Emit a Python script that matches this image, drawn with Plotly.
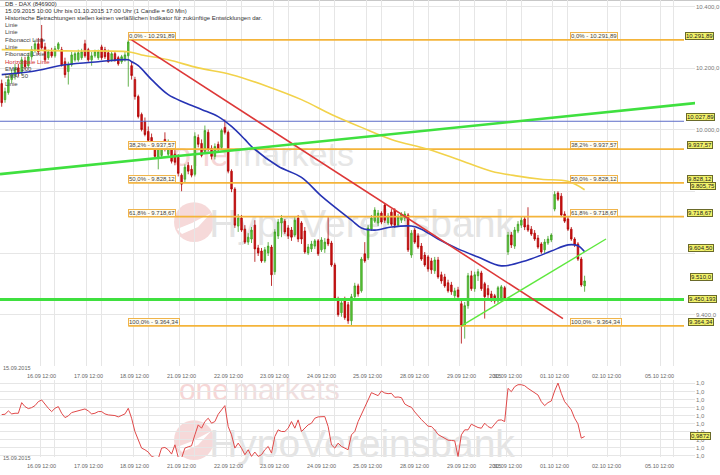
import plotly.graph_objects as go

# ---------------- data ----------------
DAYS = ["15.09", "16.09", "17.09", "18.09", "21.09", "22.09", "23.09", "24.09",
        "25.09", "28.09", "29.09", "30.09", "01.10", "02.10", "05.10"]
CANDLE_DAYS = DAYS[:13]

open_ = [
    10150, 10098, 10121, 10163, 10176, 10201, 10185, 10224, 10208, 10237, 10260, 10279,
    10295, 10269, 10234, 10253, 10240, 10263, 10260, 10221, 10189, 10211, 10227, 10227, 10234, 10279,
    10260, 10227, 10240, 10234, 10269, 10260, 10250, 10227, 10247, 10234, 10221, 10227, 10240, 10208,
    10163, 10108, 10050, 10027, 9995, 9975, 9956, 9911, 9917, 9969, 9921, 9946, 9921, 9911,
    9853, 9840, 9885, 9872, 9856, 9975, 9956, 9930, 9992, 9940, 9914, 9953, 9943, 10008,
    9992, 9866, 9808, 9688, 9714, 9678, 9636, 9646, 9691, 9617, 9607, 9575, 9601, 9620,
    9540, 9656, 9698, 9704, 9682, 9675, 9659, 9714, 9698, 9672, 9601, 9614, 9623, 9640,
    9611, 9614, 9646, 9633, 9562, 9452, 9407, 9445, 9433, 9381, 9459, 9494, 9478, 9598,
    9585, 9678, 9704, 9698, 9730, 9756, 9698, 9733, 9740, 9691, 9707, 9714, 9724, 9594,
    9675, 9656, 9623, 9594, 9588, 9575, 9543, 9578, 9530, 9523, 9504, 9497, 9462, 9481,
    9436, 9365, 9430, 9527, 9485, 9527, 9536, 9501, 9485, 9468, 9462, 9445, 9452, 9488,
    9604, 9659, 9623, 9672, 9691, 9711, 9691, 9678, 9665, 9649, 9630, 9611, 9633, 9643,
    9743, 9795, 9785, 9727, 9711, 9678, 9646, 9630, 9581, 9494]
high = [
    10163, 10137, 10176, 10195, 10214, 10214, 10237, 10237, 10250, 10272, 10292, 10298,
    10340, 10282, 10260, 10266, 10272, 10285, 10269, 10234, 10221, 10253, 10253, 10260, 10263, 10292,
    10266, 10253, 10260, 10260, 10276, 10269, 10260, 10253, 10253, 10240, 10243, 10253, 10291.89, 10221,
    10172, 10114, 10056, 10040, 10011, 9988, 9962, 9953, 9959, 9992, 9969, 9956, 9937, 9921,
    9859, 9888, 9895, 9885, 9992, 9985, 9969, 10014, 10001, 9950, 9956, 9962, 10004, 10034,
    9998, 9872, 9814, 9727, 9724, 9691, 9665, 9685, 9707, 9627, 9617, 9620, 9636, 9627,
    9678, 9711, 9724, 9711, 9691, 9685, 9717, 9724, 9704, 9685, 9630, 9640, 9646, 9646,
    9652, 9649, 9717, 9640, 9569, 9459, 9452, 9459, 9442, 9468, 9504, 9501, 9588, 9636,
    9691, 9724, 9749, 9740, 9736, 9762, 9730, 9743, 9746, 9727, 9733, 9736, 9730, 9675,
    9682, 9665, 9633, 9604, 9594, 9585, 9588, 9588, 9540, 9533, 9514, 9507, 9488, 9491,
    9449, 9442, 9536, 9543, 9540, 9549, 9543, 9507, 9497, 9478, 9468, 9494, 9497, 9494,
    9669, 9669, 9685, 9704, 9717, 9720, 9749, 9688, 9675, 9659, 9636, 9646, 9656, 9665,
    9801, 9801, 9795, 9736, 9717, 9685, 9652, 9636, 9588, 9527]
low = [
    10075, 10088, 10114, 10150, 10163, 10172, 10179, 10195, 10201, 10227, 10250, 10243,
    10260, 10221, 10227, 10234, 10234, 10256, 10205, 10169, 10147, 10205, 10221, 10221, 10227, 10234,
    10221, 10208, 10234, 10227, 10227, 10230, 10218, 10221, 10221, 10208, 10214, 10221, 10140, 10163,
    10098, 10037, 9995, 9979, 9959, 9943, 9911, 9872, 9911, 9930, 9911, 9891, 9885, 9849,
    9801, 9830, 9856, 9846, 9849, 9943, 9911, 9924, 9930, 9904, 9904, 9927, 9937, 9985,
    9859, 9798, 9682, 9669, 9669, 9630, 9627, 9633, 9572, 9591, 9569, 9569, 9591, 9494,
    9530, 9646, 9652, 9662, 9646, 9640, 9652, 9636, 9630, 9598, 9594, 9604, 9614, 9591,
    9604, 9601, 9623, 9556, 9445, 9394, 9394, 9384, 9371, 9364.34, 9452, 9459, 9472, 9569,
    9578, 9672, 9698, 9688, 9694, 9698, 9691, 9688, 9682, 9685, 9698, 9704, 9604, 9585,
    9630, 9614, 9575, 9556, 9540, 9533, 9533, 9517, 9501, 9488, 9472, 9465, 9455, 9452,
    9307, 9323, 9420, 9478, 9475, 9510, 9478, 9388, 9455, 9442, 9436, 9436, 9442, 9445,
    9594, 9617, 9614, 9665, 9682, 9675, 9669, 9656, 9640, 9614, 9598, 9601, 9627, 9636,
    9736, 9769, 9717, 9698, 9672, 9640, 9620, 9575, 9491, 9475]
close = [
    10088, 10124, 10163, 10179, 10201, 10182, 10227, 10205, 10237, 10260, 10279, 10253,
    10266, 10227, 10253, 10240, 10263, 10279, 10211, 10179, 10211, 10243, 10247, 10250, 10253, 10240,
    10227, 10240, 10253, 10253, 10234, 10237, 10221, 10247, 10227, 10214, 10237, 10243, 10285, 10176,
    10108, 10043, 10001, 9985, 9966, 9950, 9914, 9943, 9946, 9937, 9956, 9898, 9895, 9859,
    9824, 9879, 9866, 9853, 9979, 9953, 9917, 9998, 9937, 9914, 9946, 9937, 9998, 9992,
    9866, 9808, 9691, 9714, 9675, 9636, 9652, 9675, 9614, 9601, 9575, 9611, 9623, 9530,
    9669, 9701, 9714, 9669, 9656, 9652, 9707, 9646, 9646, 9604, 9620, 9630, 9640, 9598,
    9643, 9636, 9630, 9562, 9452, 9401, 9439, 9391, 9381, 9459, 9494, 9468, 9581, 9575,
    9682, 9714, 9740, 9730, 9701, 9707, 9720, 9694, 9691, 9717, 9727, 9727, 9611, 9665,
    9636, 9620, 9581, 9562, 9549, 9546, 9578, 9523, 9510, 9494, 9478, 9475, 9478, 9459,
    9365, 9430, 9527, 9485, 9530, 9540, 9485, 9459, 9465, 9449, 9445, 9488, 9491, 9452,
    9659, 9627, 9675, 9694, 9707, 9685, 9675, 9662, 9646, 9620, 9604, 9636, 9646, 9659,
    9791, 9775, 9724, 9704, 9678, 9646, 9627, 9581, 9497, 9510]

indicator = [
    0.9938, 0.9939, 0.9949, 0.9940, 0.9942, 0.9942, 0.9974, 0.9962, 0.9956, 0.9959, 0.9965, 0.9977,
    0.9982, 0.9969, 0.9957, 0.9947, 0.9957, 0.9962, 0.9942, 0.9929, 0.9934, 0.9944, 0.9947, 0.9949, 0.9951, 0.9955,
    0.9949, 0.9940, 0.9942, 0.9947, 0.9947, 0.9940, 0.9937, 0.9937, 0.9935, 0.9931, 0.9935, 0.9940, 0.9957, 0.9927,
    0.9887, 0.9862, 0.9837, 0.9832, 0.9825, 0.9812, 0.9809, 0.9805, 0.9837, 0.9839, 0.9832, 0.9819, 0.9847, 0.9809,
    0.9807, 0.9837, 0.9841, 0.9844, 0.9877, 0.9907, 0.9897, 0.9917, 0.9927, 0.9912, 0.9917, 0.9939, 0.9952, 0.9965,
    0.9902, 0.9877, 0.9837, 0.9852, 0.9837, 0.9817, 0.9832, 0.9812, 0.9825, 0.9812, 0.9817, 0.9832, 0.9842, 0.9822,
    0.9872, 0.9892, 0.9887, 0.9887, 0.9897, 0.9917, 0.9897, 0.9922, 0.9887, 0.9897, 0.9907, 0.9912, 0.9927, 0.9931,
    0.9932, 0.9932, 0.9902, 0.9847, 0.9837, 0.9852, 0.9842, 0.9837, 0.9832, 0.9877, 0.9887, 0.9917, 0.9937, 0.9959,
    0.9982, 1.0004, 0.9999, 0.9995, 1.0009, 1.0003, 1.0001, 1.0002, 0.9990, 0.9991, 0.9989, 0.9970, 0.9964, 0.9960,
    0.9946, 0.9933, 0.9923, 0.9913, 0.9903, 0.9902, 0.9892, 0.9878, 0.9872, 0.9865, 0.9861, 0.9860, 0.9859, 0.9812,
    0.9877, 0.9892, 0.9892, 0.9909, 0.9904, 0.9899, 0.9897, 0.9912, 0.9902, 0.9897, 0.9909, 0.9921, 0.9922, 0.9917,
    1.0017, 1.0007, 1.0022, 1.0028, 1.0028, 1.0025, 1.0017, 1.0010, 1.0005, 0.9997, 0.9977, 0.9965, 0.9974, 0.9979,
    1.0009, 1.0033, 1.0002, 0.9977, 0.9965, 0.9952, 0.9927, 0.9910, 0.9867, 0.9872]

ema50_t = ["15.09 10:00", "15.09 19:00", "16.09 15:00", "17.09 11:00", "17.09 20:00", "17.09 21:00",
           "18.09 09:00", "18.09 13:00", "18.09 18:00", "21.09 09:00", "21.09 14:00", "21.09 19:00",
           "22.09 09:00", "22.09 13:00", "22.09 15:00", "23.09 09:00", "23.09 16:00", "24.09 08:00",
           "24.09 17:00", "24.09 20:00", "25.09 10:00", "25.09 15:00", "25.09 21:00", "28.09 10:00",
           "28.09 15:00", "28.09 21:00", "29.09 13:00", "29.09 20:00", "30.09 14:00", "30.09 21:00",
           "01.10 12:00", "01.10 15:00", "01.10 17:00"]
ema50_v = [10179, 10189, 10211, 10221, 10227, 10221, 10208, 10163, 10114, 10088, 10066, 10043,
           10011, 9969, 9946, 9882, 9846, 9785, 9707, 9682, 9675, 9685, 9688, 9678,
           9646, 9614, 9588, 9559, 9578, 9607, 9627, 9624, 9604.50]
ema200_t = ["15.09 10:00", "16.09 15:00", "17.09 20:00", "18.09 10:00", "18.09 18:00", "21.09 13:00",
            "22.09 09:00", "22.09 20:00", "23.09 16:00", "24.09 11:00", "24.09 20:00", "25.09 15:00",
            "28.09 12:00", "28.09 21:00", "29.09 17:00", "30.09 11:00", "30.09 18:00", "01.10 12:00",
            "01.10 17:00"]
ema200_v = [10260, 10256, 10253, 10243, 10227, 10201, 10179, 10140, 10098, 10050, 10008, 9969,
            9937, 9904, 9866, 9850, 9840, 9833, 9805.75]

fib_start = "17.09 20:00"
fib_levels = [10291.89, 9937.57, 9828.12, 9718.67, 9364.34]
fib_labels = ["0,0% - 10.291,89", "38,2% - 9.937,57", "50,0% - 9.828,12",
              "61,8% - 9.718,67", "100,0% - 9.364,34"]
red_trend_t = ["17.09 21:00", "01.10 10:30"]
red_trend_v = [10291.89, 9388]
green_trend_t = ["15.09 10:00", "01.10 17:00"]
green_trend_v = [9857, 10050]
support_t = ["29.09 08:00", "02.10 09:25"]
support_v = [9364.34, 9646]
blue_level = 10027.89
green_level = 9450.193

box_values = [10291.89, 10027.89, 9937.57, 9828.12, 9805.75, 9718.67, 9604.50, 9510.0, 9450.193, 9364.34]
box_texts = ["10.291,89", "10.027,89", "9.937,57", "9.828,12", "9.805,75", "9.718,67",
             "9.604,50", "9.510,0", "9.450,193", "9.364,34"]
ind_box_value = 0.9872
ind_box_text = "0,9872"

y_ticks = [10400, 10200, 10000, 9800, 9600, 9400]
y_ticktext = ["10.400,0", "10.200,0", "10.000,0", "", "", "9.400,0"]

legend_items = ["Linie", "Linie", "Fibonacci Linie", "Linie", "Fibonacci Linie",
                "Horizontale Linie", "EMA: 200", "EMA: 50", "Linie"]
header = ["DB - DAX (846900)",
          "15.09.2015 10:00 Uhr bis 01.10.2015 17:00 Uhr (1 Candle = 60 Min)",
          "Historische Betrachtungen stellen keinen verläßlichen Indikator für zukünftige Entwicklungen dar."]


# ---------------- scales / layout helpers ----------------
def tpos(t):
    d, hm = t.split()
    h, m = hm.split(":")
    return DAYS.index(d) * 14 + int(h) - 8 + int(m) / 60.0


candle_times = []
for i, d in enumerate(CANDLE_DAYS):
    hours = range(10, 22) if i == 0 else (range(8, 18) if d == "01.10" else range(8, 22))
    for h in hours:
        candle_times.append(f"{d} {h:02d}:00")
cx = [tpos(t) for t in candle_times]

W, H = 720, 475
PLOT_W = 695
PX_SLOT = 3.331
X0 = 13.5 - 40 / PX_SLOT
X1 = X0 + PLOT_W / PX_SLOT
PX_PT = 0.3097
MAIN_BOT = 368
Y_TOP = 10291.89 + 40 / PX_PT
Y_BOT = Y_TOP - MAIN_BOT / PX_PT
IND_TOP, IND_BOT = 382, 459
IND_HI, IND_LO = 1.0041, 0.9810
ind_ticks = [1.0032 - 0.00243 * k for k in range(10)]
box_px = [685, 686, 687, 687, 690, 687, 688, 690, 688, 688]
legend_colors = ["#444"] * 5 + ["#d03030"] + ["#444"] * 3


def px2x(px):
    return X0 + px / PX_SLOT


def yp(py):
    return 1 - py / H


FONT = "Liberation Sans, Arial, sans-serif"
GRID = "#e6e6e6"

fig = go.Figure()

fig.add_trace(go.Candlestick(
    x=cx, open=open_, high=high, low=low, close=close,
    increasing=dict(line=dict(color="#3f9f22", width=0.8), fillcolor="#5ccb38"),
    decreasing=dict(line=dict(color="#b00000", width=0.8), fillcolor="#d01515"),
    whiskerwidth=0, showlegend=False, hoverinfo="skip", xaxis="x", yaxis="y"))

line_end = px2x(684)
fx0 = tpos(fib_start)
for lvl in fib_levels:
    fig.add_trace(go.Scatter(x=[fx0, line_end], y=[lvl, lvl], mode="lines",
                             line=dict(color="#f4b43a", width=1.6), showlegend=False, hoverinfo="skip"))
fig.add_trace(go.Scatter(x=[X0, line_end], y=[blue_level] * 2, mode="lines",
                         line=dict(color="#5c6cc8", width=1), showlegend=False, hoverinfo="skip"))
fig.add_trace(go.Scatter(x=[X0, line_end], y=[green_level] * 2, mode="lines",
                         line=dict(color="#3fe03f", width=3), showlegend=False, hoverinfo="skip"))
fig.add_trace(go.Scatter(x=[tpos(t) for t in ema200_t], y=ema200_v, mode="lines",
                         line=dict(color="#f2d24a", width=1.6, shape="spline"), showlegend=False, hoverinfo="skip"))
fig.add_trace(go.Scatter(x=[tpos(t) for t in ema50_t], y=ema50_v, mode="lines",
                         line=dict(color="#2633b4", width=1.6, shape="spline"), showlegend=False, hoverinfo="skip"))
fig.add_trace(go.Scatter(x=[tpos(t) for t in red_trend_t], y=red_trend_v, mode="lines",
                         line=dict(color="#dd3838", width=1.6), showlegend=False, hoverinfo="skip"))
fig.add_trace(go.Scatter(x=[tpos(t) for t in support_t], y=support_v, mode="lines",
                         line=dict(color="#5ee83e", width=1.4), showlegend=False, hoverinfo="skip"))
# long green trend line (ray through two anchors, spanning full width)
gx = [tpos(t) for t in green_trend_t]
slope = (green_trend_v[1] - green_trend_v[0]) / (gx[1] - gx[0])
gx_end = px2x(720)
fig.add_shape(type="line", xref="x", yref="y", x0=X0, x1=gx_end,
              y0=green_trend_v[0] + slope * (X0 - gx[0]), y1=green_trend_v[0] + slope * (gx_end - gx[0]),
              line=dict(color="#3fe03f", width=2.6), layer="above")

fig.add_trace(go.Scatter(x=cx, y=indicator, mode="lines", line=dict(color="#e04848", width=1),
                         showlegend=False, hoverinfo="skip", xaxis="x2", yaxis="y2"))

# vertical grid positions (day start and 12:00 of each day)
grid_x = []
for d in range(1, 13):
    grid_x += [d * 14 - 0.5, d * 14 + 4]
grid_x += [px2x(607), px2x(620), px2x(660), px2x(673)]
label_x = [d * 14 + 4 for d in range(1, 13)] + [px2x(620), px2x(673)]

dom_x = [0, PLOT_W / W]
fig.update_layout(
    width=W, height=H, margin=dict(l=0, r=0, t=0, b=0),
    paper_bgcolor="white", plot_bgcolor="white", boxgap=0.35,
    font=dict(family=FONT, size=6, color="#555"),
    xaxis=dict(domain=dom_x, range=[X0, X1], tickvals=grid_x, showticklabels=False, showgrid=True,
               gridcolor=GRID, zeroline=False, rangeslider=dict(visible=False), anchor="y", fixedrange=True),
    yaxis=dict(domain=[yp(MAIN_BOT), 1], range=[Y_BOT, Y_TOP], side="right", tickvals=y_ticks,
               ticktext=y_ticktext, gridcolor=GRID, zeroline=False, ticks="", anchor="x",
               tickfont=dict(size=6, color="#777")),
    xaxis2=dict(domain=dom_x, range=[X0, X1], tickvals=grid_x, showticklabels=False, showgrid=True,
                gridcolor=GRID, zeroline=False, anchor="y2", matches="x"),
    yaxis2=dict(domain=[yp(IND_BOT), yp(IND_TOP)], range=[IND_LO, IND_HI], side="right",
                tickvals=ind_ticks, ticktext=["1,0"] * len(ind_ticks), gridcolor=GRID, zeroline=False,
                ticks="", anchor="x2", tickfont=dict(size=6, color="#777")),
)

# top border of the chart
fig.add_shape(type="line", xref="paper", yref="paper", x0=0, x1=1, y0=yp(0.5), y1=yp(0.5),
              line=dict(color="#c8c8c8", width=1), layer="below")


# watermarks (below traces)
def wm(text, x0, x1, y0, y1, size, color, pos):
    fig.add_shape(type="rect", xref="paper", yref="paper", x0=x0 / W, x1=x1 / W, y0=yp(y1), y1=yp(y0),
                  line=dict(width=0), fillcolor="rgba(0,0,0,0)", layer="between",
                  label=dict(text=text, font=dict(size=size, color=color, family=FONT),
                             textposition=pos, padding=0))


def logo(cxp, cyp, r):
    fig.add_shape(type="circle", xref="paper", yref="paper", x0=(cxp - r) / W, x1=(cxp + r) / W,
                  y0=yp(cyp + r), y1=yp(cyp - r), line=dict(width=0), fillcolor="#f6d9d9", layer="between")
    # white swoosh across the circle
    pts = [(cxp - r * 0.85, cyp + r * 0.35), (cxp - r * 0.1, cyp + r * 0.05), (cxp + r * 0.85, cyp - r * 0.45),
           (cxp + r * 0.2, cyp + r * 0.25), (cxp - r * 0.6, cyp + r * 0.6)]
    path = "M " + " L ".join(f"{x / W},{yp(y)}" for x, y in pts) + " Z"
    fig.add_shape(type="path", xref="paper", yref="paper", path=path, line=dict(width=0),
                  fillcolor="white", layer="between")


# main panel watermark
wm("one", 150, 232, 132, 172, 34, "#f6d6d6", "middle right")
wm("markets", 230, 400, 132, 172, 34, "#e6e6e6", "middle left")
logo(194, 223, 20)
wm("HypoVereinsbank", 212, 512, 195, 245, 39, "#e4e4e4", "middle center")
# indicator panel watermark
wm("one", 150, 232, 372, 404, 30, "#f6d6d6", "middle right")
wm("markets", 230, 400, 372, 404, 30, "#f0dede", "middle left")
logo(194, 442, 20)
wm("HypoVereinsbank", 212, 512, 418, 464, 39, "#e4e4e4", "middle center")

ann = []
# header + legend text
for i, t in enumerate(header):
    ann.append(dict(text=t, x=3 / W, y=yp(4.5 + 6.6 * i), xref="paper", yref="paper", xanchor="left",
                    yanchor="middle", showarrow=False, font=dict(size=6, color="#333")))
for i, (t, c) in enumerate(zip(legend_items, legend_colors)):
    ann.append(dict(text=t, x=3 / W, y=yp(25 + 7.4 * i), xref="paper", yref="paper", xanchor="left",
                    yanchor="middle", showarrow=False, font=dict(size=6, color=c)))
# fib labels (left at the start, right near 570 px)
for lvl, lab in zip(fib_levels, fib_labels):
    for xx in [fx0, px2x(570)]:
        ann.append(dict(text=lab, x=xx, y=lvl, xref="x", yref="y", xanchor="left", yanchor="bottom",
                        showarrow=False, font=dict(size=6, color="#444"), bgcolor="#fffdf2",
                        bordercolor="#f0b44a", borderwidth=1, borderpad=0, yshift=0))
# price boxes at the right
for v, lab, bx in zip(box_values, box_texts, box_px):
    ann.append(dict(text=lab, x=bx / W, y=v, xref="paper", yref="y", xanchor="left",
                    yanchor="middle" if lab == "9.450,193" else "bottom", showarrow=False,
                    font=dict(size=6, color="#222"), bgcolor="#f2f26a", bordercolor="#6a6a2a",
                    borderwidth=1, borderpad=0))
ann.append(dict(text=ind_box_text, x=690 / W, y=ind_box_value, xref="paper", yref="y2", xanchor="left",
                yanchor="middle", showarrow=False, font=dict(size=6, color="#222"), bgcolor="#f2f26a",
                bordercolor="#6a6a2a", borderwidth=1, borderpad=0))
# x labels (two rows)
for row_y in [378, 468]:
    ann.append(dict(text="15.09.2015", x=1 / W, y=yp(row_y - 8), xref="paper", yref="paper",
                    xanchor="left", yanchor="middle", showarrow=False, font=dict(size=5.5, color="#666")))
    for d, lx in zip(DAYS[1:], label_x):
        ann.append(dict(text=f"{d} 12:00", x=lx, y=yp(row_y), xref="x", yref="paper", xanchor="right",
                        yanchor="middle", xshift=3, showarrow=False, font=dict(size=5.5, color="#666")))
    ann.append(dict(text="2015", x=px2x(487), y=yp(row_y), xref="x", yref="paper", xanchor="left",
                    yanchor="middle", showarrow=False, font=dict(size=5.5, color="#666")))

fig.update_layout(annotations=ann)
fig.write_html("out.html", config={"displayModeBar": False},
               post_script="document.body.style.margin='0';document.body.style.padding='0';")
